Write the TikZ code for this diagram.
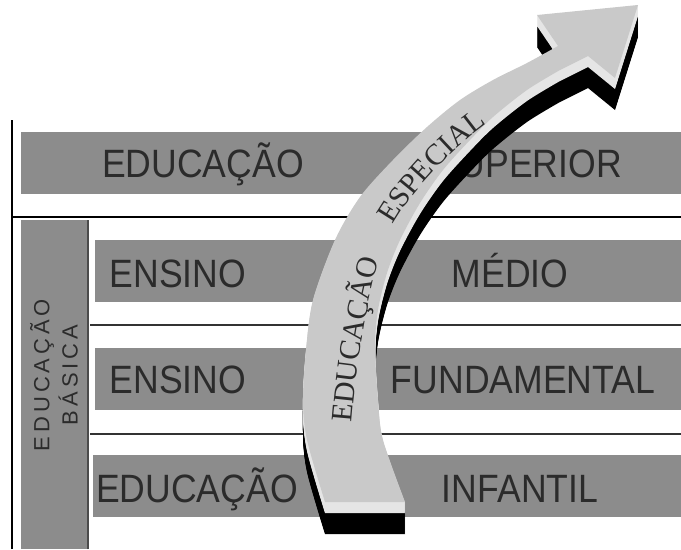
\documentclass[tikz,border=0pt]{standalone}
\usepackage{fontspec}
\usetikzlibrary{decorations.text}
\newfontfamily\bandfont[FakeStretch=0.9]{Liberation Sans}
\newfontfamily\colfont[LetterSpace=18]{Liberation Sans}
\newfontfamily\arrowfont{Liberation Serif}
\definecolor{band}{gray}{0.55}
\definecolor{arrowtop}{gray}{0.79}
\definecolor{arrowside}{gray}{0.9}
\definecolor{ink}{gray}{0.17}
\tikzset{
  bandtext/.style={font=\bandfont\fontsize{22.5}{22.5}\selectfont, text=ink, inner sep=0pt, anchor=base},
  rule/.style={line width=0.8pt, black!80}
}
% outline of the curved arrow, in pixel units
\newcommand\arrowshape{plot[smooth] coordinates {(325,47) (307,109) (303,149) (306,199) (313,249) (335,309) (360,352) (393,389) (427,422) (460,449) (493,469) (527,486) (558,503)} -- (537,534) -- (638,544) -- (615,471) -- (588,493) -- plot[smooth] coordinates {(560,479) (527,459) (493,432) (470,409) (443,379) (420,346) (400,309) (387,276) (378,239) (375,202) (378,149) (383,109) (405,47)} -- cycle}
\begin{document}
\begin{tikzpicture}[x=0.02cm, y=0.02cm]
\useasboundingbox (0,0) rectangle (681,549);

% bands
\fill[band] (21,355) rectangle (681,417);
\fill[band] (21,0) rectangle (88,329);
\fill[band] (95,247) rectangle (681,309);
\fill[band] (95,139) rectangle (681,201);
\fill[band] (93,32) rectangle (681,94);

\draw[line width=1pt] (12,0) -- (12,429);
\draw[line width=1pt] (12,332) -- (681,332);
\draw[line width=1.2pt, black!70] (88,0) -- (88,329);
\draw[rule] (90,224) -- (681,224);
\draw[rule] (90,115) -- (681,115);

\node[rotate=90, align=center, font=\colfont\fontsize{12.5}{16}\selectfont, text=ink] (basica) at (54,174) {EDUCAÇÃO\\BÁSICA};

\node[bandtext] (edsup) at (203,372) {EDUCAÇÃO};
\node[bandtext] (superior) at (529,372) {SUPERIOR};
\node[bandtext] (ensmed) at (178,262) {ENSINO};
\node[bandtext] (medio) at (510,262) {MÉDIO};
\node[bandtext] (ensfund) at (178,155) {ENSINO};
\node[bandtext] (fund) at (523,155) {FUNDAMENTAL};
\node[bandtext] (edinf) at (197,47) {EDUCAÇÃO};
\node[bandtext] (infantil) at (520,47) {INFANTIL};

% arrow: shadow, side face, top face
\foreach \d in {12,...,32}
  \fill[black, shift={(0,-\d)}] \arrowshape;
\foreach \d in {1,...,11}
  \fill[arrowside, shift={(0,-\d)}] \arrowshape;
\fill[arrowtop] \arrowshape;

\path[decorate, decoration={text along path, text color=ink,
  text={|\arrowfont\fontsize{17}{17}\selectfont|EDUCAÇÃO}}]
  (352,126) .. controls (357,189) and (368,259) .. (386,312);
\path[decorate, decoration={text along path, text color=ink,
  text={|\arrowfont\fontsize{17}{17}\selectfont|ESPECIAL}}]
  (393,324) .. controls (410,354) and (445,394) .. (484,423);

\end{tikzpicture}
\end{document}
